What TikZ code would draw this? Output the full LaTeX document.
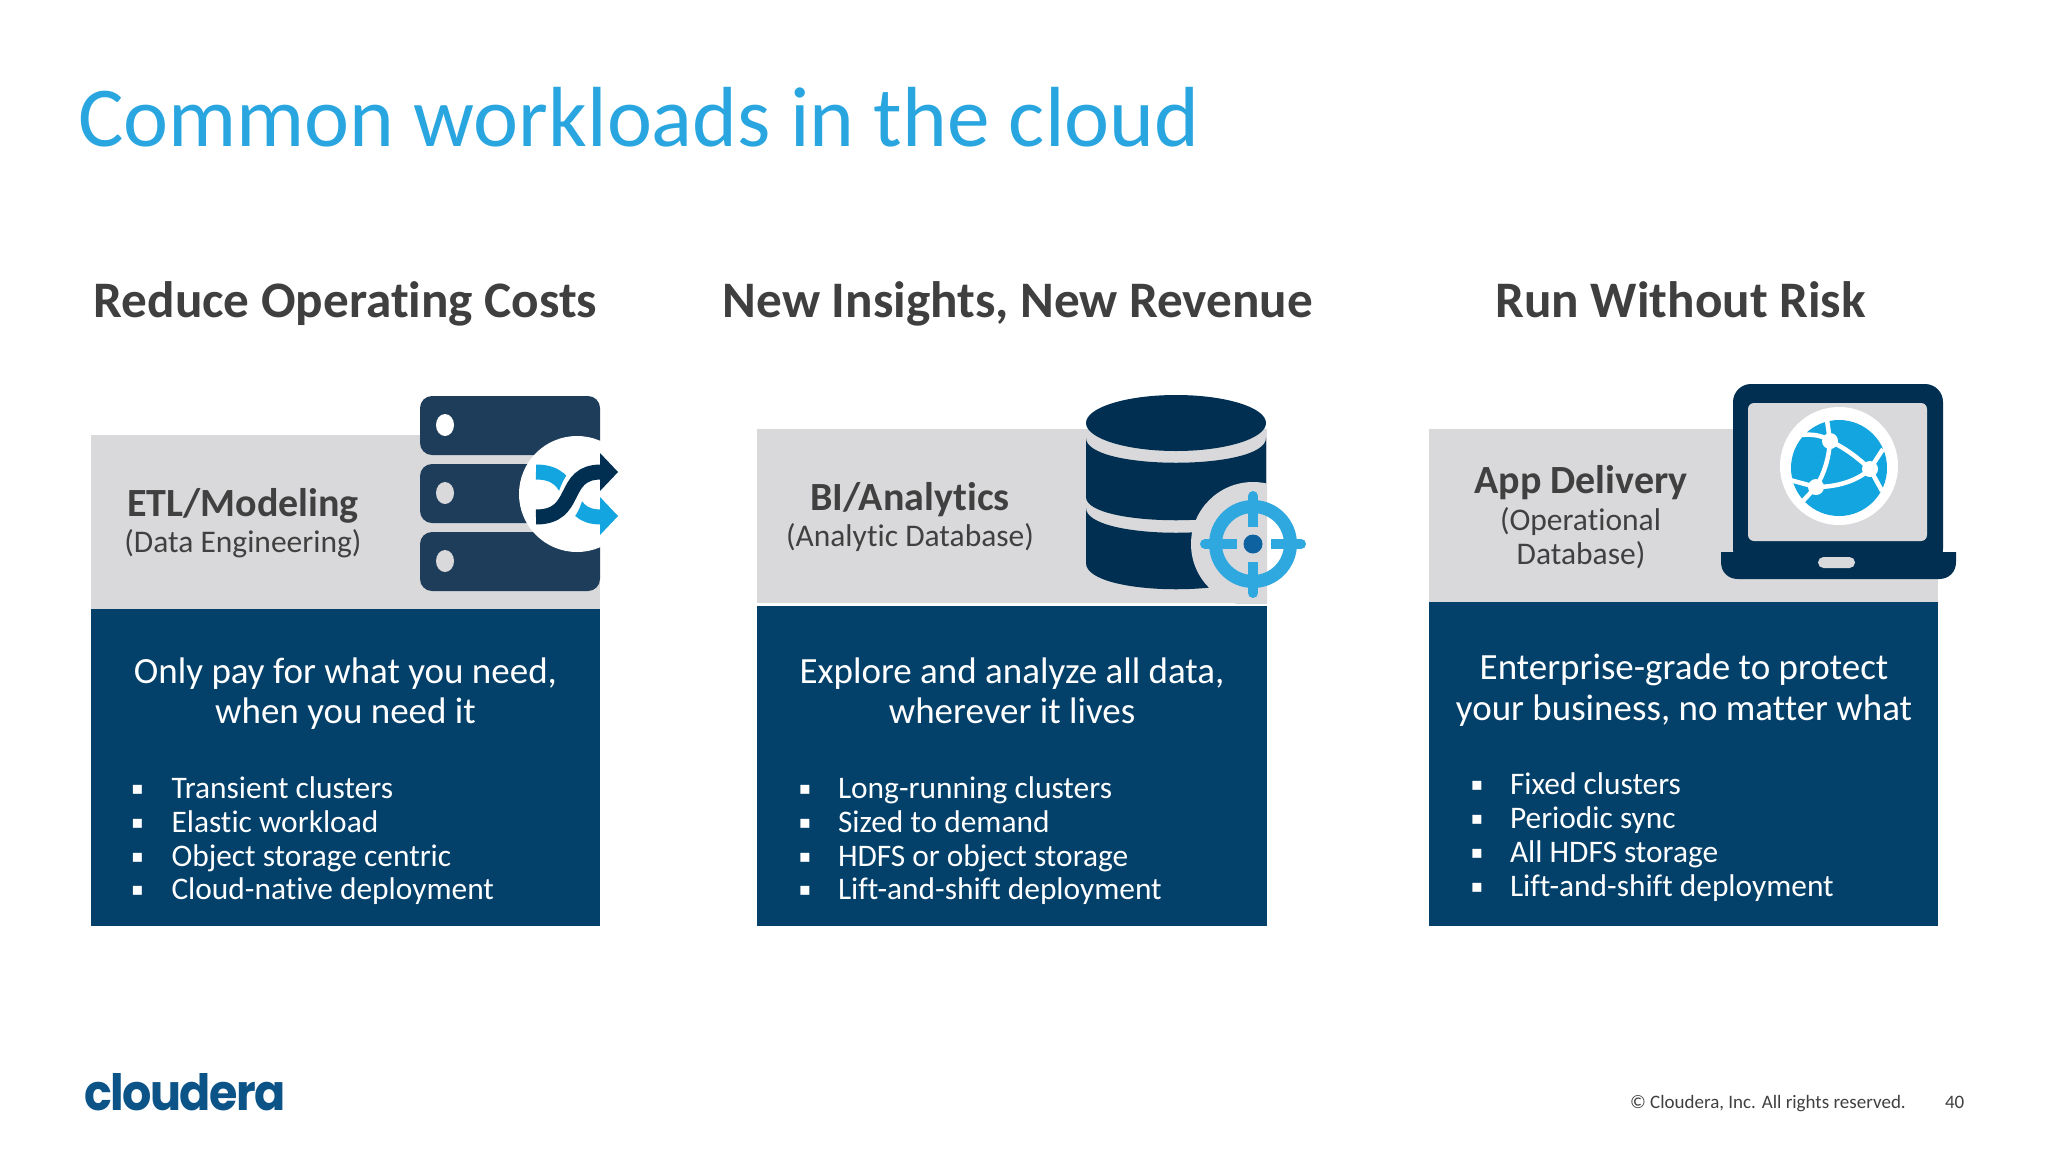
\documentclass[tikz,border=0pt]{standalone}
\usepackage{fontspec}
\setmainfont{Carlito}[Ligatures=NoCommon]
\newfontfamily\logofont[LetterSpace=-3,FakeStretch=0.92]{Poppins}
\newfontfamily\bulfont{DejaVu Sans}
\definecolor{titleblue}{HTML}{29A6E0}
\definecolor{headgrey}{HTML}{3F3F3F}
\definecolor{labelgrey}{HTML}{404040}
\definecolor{panelgrey}{HTML}{D9D9DB}
\definecolor{panelnavy}{HTML}{03406A}
\definecolor{iconnavy}{HTML}{012F52}
\definecolor{servernavy}{HTML}{1E3D5A}
\definecolor{shuffleblue}{HTML}{12A5DF}
\definecolor{targetblue}{HTML}{2FA8E0}
\definecolor{dotblue}{HTML}{0F62A0}
\definecolor{logoblue}{HTML}{0C5388}
\newcommand{\fs}[1]{\fontsize{#1}{#1}\selectfont}
\tikzset{
  txt/.style={inner sep=0pt,outer sep=0pt,anchor=base},
  heading/.style={txt,text=headgrey,font=\fs{51.2}\bfseries},
  lblmain/.style={txt,text=labelgrey,font=\fs{40}\bfseries},
  lblsub/.style={txt,text=labelgrey,font=\fs{31.5}},
  lead/.style={txt,text=white,font=\fs{37}},
  bult/.style={txt,anchor=base west,text=white,font=\fs{31.4}},
  bulm/.style={txt,text=white,font=\bulfont\fs{18}},
}
\begin{document}
\begin{tikzpicture}[x=1pt,y=-1pt]
\useasboundingbox (0,0) rectangle (2048,1152);
\fill[white] (0,0) rectangle (2048,1152);
\node[txt,anchor=base west,text=titleblue,font=\fs{85.3}] (title) at (78,146) {Common workloads in the cloud};
\node[heading] (h1) at (345.5,317) {Reduce Operating Costs};
\node[heading] (h2) at (1018,317) {New Insights, New Revenue};
\node[heading] (h3) at (1680.5,317) {Run Without Risk};
% panels
\fill[panelgrey] (90.5,435) rectangle (600,609);
\fill[panelnavy] (90.5,608.5) rectangle (600,926);
\fill[panelgrey] (757,429) rectangle (1267,603);
\fill[panelnavy] (757,606) rectangle (1267,926);
\fill[panelgrey] (1429,429) rectangle (1938,603);
\fill[panelnavy] (1429,602) rectangle (1938,926);
% panel 1 text
\node[lblmain] (a1) at (243,516) {ETL/Modeling};
\node[lblsub] (a2) at (243,552) {(Data Engineering)};
\node[lead] (a3) at (345.5,683) {Only pay for what you need,};
\node[lead] (a4) at (345.5,723.5) {when you need it};
\foreach \y/\t [count=\i] in {798/Transient clusters,832/Elastic workload,866/Object storage centric,899.5/Cloud-native deployment}{
  \node[bulm] (ab\i) at (137.5,\y-4) {▪};
  \node[bult] (at\i) at (171.5,\y) {\t};
}
% panel 2 text
\node[lblmain] (b1) at (910,510) {BI/Analytics};
\node[lblsub] (b2) at (910,546) {(Analytic Database)};
\node[lead] (b3) at (1012,683) {Explore and analyze all data,};
\node[lead] (b4) at (1012,723.5) {wherever it lives};
\foreach \y/\t [count=\i] in {798/Long-running clusters,832/Sized to demand,866/HDFS or object storage,899.5/Lift-and-shift deployment}{
  \node[bulm] (bb\i) at (805,\y-4) {▪};
  \node[bult] (bt\i) at (838,\y) {\t};
}
% panel 3 text
\node[lblmain] (c1) at (1581,493) {App Delivery};
\node[lblsub] (c2) at (1580.5,530) {(Operational};
\node[lblsub] (c3) at (1581,564) {Database)};
\node[lead] (c4) at (1684,679) {Enterprise-grade to protect};
\node[lead] (c5) at (1684,720) {your business, no matter what};
\foreach \y/\t [count=\i] in {794/Fixed clusters,828/Periodic sync,862/All HDFS storage,896/Lift-and-shift deployment}{
  \node[bulm] (cb\i) at (1477,\y-4) {▪};
  \node[bult] (ct\i) at (1510,\y) {\t};
}
% server icon
\foreach \ya/\yb in {396/455,464/523,532/591}{
  \fill[servernavy,rounded corners=12] (420,\ya) rectangle (600,\yb);
}
\fill[white] (445,425) ellipse [x radius=9,y radius=11];
\fill[panelgrey] (445,493) ellipse [x radius=9,y radius=11];
\fill[panelgrey] (445,561) ellipse [x radius=9,y radius=11];
\fill[white] (577,494) circle [radius=58];
\draw[shuffleblue,line width=15] (536,472) .. controls (580,472) and (560,517) .. (601,517);
\fill[shuffleblue] (600,497) -- (618,516) -- (600,535) -- cycle;
\draw[white,line width=25] (548,517) .. controls (580,517) and (560,472) .. (601,472);
\draw[iconnavy,line width=15] (536,517) .. controls (580,517) and (560,472) .. (601,472);
\fill[iconnavy] (600,453) -- (618,472) -- (600,491) -- cycle;
% database icon
\fill[iconnavy] (1176,423) ellipse [x radius=90,y radius=28];
\fill[iconnavy] (1086,438) .. controls (1086,471) and (1266,471) .. (1266,438) -- (1266,497) .. controls (1266,528) and (1086,528) .. (1086,497) -- cycle;
\fill[iconnavy] (1086,508) .. controls (1086,541) and (1266,541) .. (1266,508) -- (1266,563) .. controls (1266,598) and (1086,598) .. (1086,563) -- cycle;
\begin{scope}
\clip (1100,400) rectangle (1267,603);
\fill[panelgrey] (1253,544) circle [radius=62];
\end{scope}
\draw[targetblue,line width=13] (1253,544) circle [radius=37.5];
\fill[dotblue] (1253,544) circle [radius=9.5];
\begin{scope}[targetblue,line width=10]
\draw[line cap=round] (1205,544) -- (1221,544);
\draw (1221,544) -- (1237,544);
\draw[line cap=round] (1301,544) -- (1285,544);
\draw (1285,544) -- (1271,544);
\draw[line cap=round] (1253,496) -- (1253,510);
\draw (1253,510) -- (1253,527);
\draw[line cap=round] (1253,593) -- (1253,578);
\draw (1253,578) -- (1253,562);
\end{scope}
% laptop icon
\fill[iconnavy,rounded corners=18] (1733,384) rectangle (1943,567);
\fill[iconnavy] (1721,552) -- (1956,552) -- (1956,562) .. controls (1956,572) and (1949,579) .. (1939,579) -- (1738,579) .. controls (1728,579) and (1721,572) .. (1721,562) -- cycle;
\fill[panelgrey,rounded corners=6] (1748,403) rectangle (1927,541);
\fill[panelgrey,rounded corners=5.5] (1818,557) rectangle (1855,568);
\fill[white] (1839,466) circle [radius=59];
\fill[shuffleblue] (1839,468) circle [radius=48];
\begin{scope}[white,line width=4.5]
\draw (1830,441) .. controls (1847,449) and (1859,459) .. (1870,469);
\draw (1830,441) .. controls (1829,457) and (1825,472) .. (1816,487);
\draw (1816,487) .. controls (1837,487) and (1857,481) .. (1870,469);
\draw (1830,441) -- (1827,420);
\draw (1830,441) .. controls (1822,435) and (1812,434) .. (1801,435);
\draw (1870,469) -- (1883,449);
\draw (1870,469) -- (1882,491);
\draw (1816,487) -- (1790,480);
\draw (1816,487) -- (1801,503);
\fill (1830,441) circle [radius=8];
\fill (1870,469) circle [radius=8];
\fill (1816,487) circle [radius=8];
\end{scope}
% footer
\node[txt,anchor=base west,text=logoblue,font=\logofont\bfseries\fs{50}] (logo) at (84,1110) {cloudera};
\node[txt,anchor=base west,text=labelgrey,font=\fs{19}] (copy) at (1630,1108) {© Cloudera, Inc. All rights reserved.};
\node[txt,anchor=base west,text=labelgrey,font=\fs{19}] (page) at (1945,1108) {40};
\end{tikzpicture}
\end{document}
